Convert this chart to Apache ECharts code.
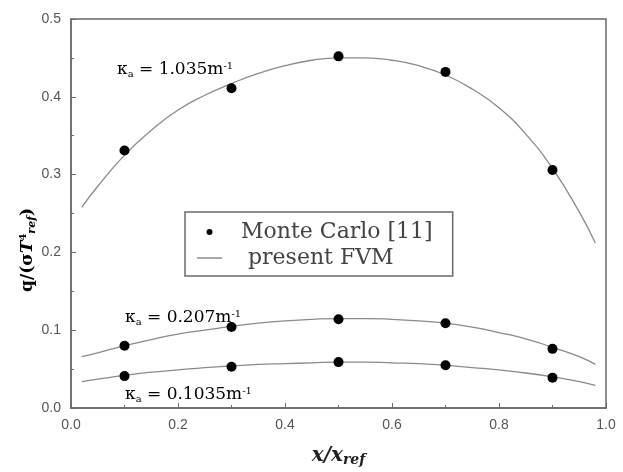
<!DOCTYPE html>
<html>
<head>
<meta charset="utf-8">
<script src="https://cdn.jsdelivr.net/npm/echarts@6/dist/echarts.min.js"></script>
<style>html,body{margin:0;padding:0;background:#fff}#c{width:623px;height:472px}</style>
</head>
<body>
<div id="c"></div>
<script>
// Monte Carlo points
const mcX = [0.1, 0.3, 0.5, 0.7, 0.9];
const mcK1035 = [0.331, 0.411, 0.452, 0.432, 0.306];
const mcK0207 = [0.080, 0.104, 0.114, 0.109, 0.076];
const mcK01035 = [0.041, 0.053, 0.059, 0.055, 0.039];
// present FVM curves
const fvmX = [0.02, 0.05, 0.1, 0.15, 0.2, 0.25, 0.3, 0.35, 0.4, 0.45, 0.5, 0.55, 0.6, 0.65, 0.7, 0.75, 0.8, 0.85, 0.9, 0.95, 0.98];
const fvmK1035 = [0.258, 0.285, 0.325, 0.357, 0.383, 0.402, 0.417, 0.430, 0.440, 0.447, 0.450, 0.450, 0.447, 0.440, 0.428, 0.410, 0.386, 0.352, 0.308, 0.252, 0.212];
const fvmK0207 = [0.066, 0.071, 0.080, 0.088, 0.095, 0.100, 0.105, 0.109, 0.112, 0.114, 0.115, 0.115, 0.114, 0.112, 0.109, 0.104, 0.097, 0.089, 0.078, 0.066, 0.056];
const fvmK01035 = [0.034, 0.037, 0.042, 0.046, 0.049, 0.052, 0.054, 0.056, 0.057, 0.058, 0.059, 0.059, 0.058, 0.057, 0.055, 0.052, 0.049, 0.045, 0.040, 0.034, 0.029];
const xTicks = [0.0, 0.2, 0.4, 0.6, 0.8, 1.0];
const yTicks = [0.0, 0.1, 0.2, 0.3, 0.4, 0.5];

const zip = (xs, ys) => xs.map((x, i) => [x, ys[i]]);
const MC = 'Monte Carlo [11]', FVM = 'present FVM';
const lineStyle = {color: '#8a8a8a', width: 1.3};
function fvm(ys) {
  return {name: FVM, type: 'line', data: zip(fvmX, ys), smooth: true, symbol: 'none',
    lineStyle: lineStyle, itemStyle: {color: '#555'}, z: 2};
}
function mc(ys) {
  return {name: MC, type: 'scatter', data: zip(mcX, ys), symbol: 'circle', symbolSize: 10,
    itemStyle: {color: '#000', opacity: 1}, z: 3};
}
const annRich = {
  k: {fontFamily: 'DejaVu Serif', fontSize: 17, color: '#2a2a2a'},
  sub: {fontFamily: 'DejaVu Serif', fontSize: 10, color: '#2a2a2a', verticalAlign: 'bottom', padding: [8, 0, 0, 0]},
  sup: {fontFamily: 'DejaVu Serif', fontSize: 10, color: '#2a2a2a', verticalAlign: 'top', padding: [0, 0, 8, 0]}
};
function ann(x, y, val) {
  return {type: 'text', left: x, top: y - 11, z: 10,
    style: {rich: annRich, text: '{k|κ}{sub|a}{k| = ' + val + 'm}{sup|-1}'}};
}

const chart = echarts.init(document.getElementById('c'));
chart.setOption({
  animation: false,
  backgroundColor: '#fff',
  grid: {left: 71, right: 17, top: 19, bottom: 51, show: true, borderColor: '#6a6a6a', borderWidth: 1.5},
  xAxis: {
    type: 'value', min: 0, max: 1, interval: 0.2,
    axisLine: {show: true, lineStyle: {color: '#6a6a6a', width: 1.5}},
    axisTick: {show: true, inside: true, length: 5, lineStyle: {color: '#6a6a6a'}},
    minorTick: {show: true, splitNumber: 2, length: 3, lineStyle: {color: '#6a6a6a'}},
    splitLine: {show: false},
    axisLabel: {margin: 10, fontFamily: 'Liberation Sans', fontSize: 14, color: '#555',
      formatter: v => xTicks.find(t => Math.abs(t - v) < 1e-9).toFixed(1)},
    name: '{a|x/x}{s|ref}', nameLocation: 'middle', nameGap: 37,
    nameTextStyle: {rich: {
      a: {fontFamily: 'DejaVu Serif', fontWeight: 'bold', fontStyle: 'italic', fontSize: 20, color: '#222'},
      s: {fontFamily: 'DejaVu Serif', fontWeight: 'bold', fontStyle: 'italic', fontSize: 14, color: '#222', verticalAlign: 'bottom', padding: [8, 0, 0, 0]}
    }}
  },
  yAxis: {
    type: 'value', min: 0, max: 0.5, interval: 0.1,
    axisLine: {show: true, lineStyle: {color: '#6a6a6a', width: 1.5}},
    axisTick: {show: true, inside: true, length: 5, lineStyle: {color: '#6a6a6a'}},
    minorTick: {show: true, splitNumber: 2, length: 3, lineStyle: {color: '#6a6a6a'}},
    splitLine: {show: false},
    axisLabel: {margin: 10, fontFamily: 'Liberation Sans', fontSize: 14, color: '#555',
      formatter: v => yTicks.find(t => Math.abs(t - v) < 1e-9).toFixed(1)}
  },
  legend: {
    orient: 'vertical', left: 185, top: 212,
    padding: [9, 20, 7, 12], itemGap: 4,
    borderColor: '#6a6a6a', borderWidth: 1.5,
    itemWidth: 25, itemHeight: 6,
    textStyle: {fontFamily: 'DejaVu Serif', fontSize: 22, lineHeight: 22, color: '#444', padding: [0, 0, 0, 14]},
    formatter: n => n === FVM ? ' ' + n : n,
    data: [
      {name: MC, icon: 'circle', itemStyle: {color: '#000'}},
      {name: FVM, icon: 'path://M0,0H25V1H0Z', itemStyle: {color: '#555'}}
    ]
  },
  graphic: [
    ann(117, 72, '1.035'),
    ann(125, 320, '0.207'),
    ann(125, 397, '0.1035'),
    {type: 'text', x: 28, y: 250, rotation: Math.PI / 2, z: 10,
      style: {align: 'center', verticalAlign: 'middle', rich: {
        a: {fontFamily: 'DejaVu Serif', fontWeight: 'bold', fontSize: 17, color: '#222'},
        t: {fontFamily: 'DejaVu Serif', fontWeight: 'bold', fontStyle: 'italic', fontSize: 17, color: '#222'},
        sp: {fontFamily: 'DejaVu Serif', fontWeight: 'bold', fontSize: 10, color: '#222', verticalAlign: 'top', padding: [0, 0, 8, 0]},
        sb: {fontFamily: 'DejaVu Serif', fontWeight: 'bold', fontStyle: 'italic', fontSize: 11, color: '#222', verticalAlign: 'bottom', padding: [8, 0, 0, 0]}
      }, text: '{a|q/(σ}{t|T}{sp|4}{sb|ref}{a|)}'}}
  ],
  series: [
    fvm(fvmK1035), fvm(fvmK0207), fvm(fvmK01035),
    mc(mcK1035), mc(mcK0207), mc(mcK01035)
  ]
});
</script>
</body>
</html>
